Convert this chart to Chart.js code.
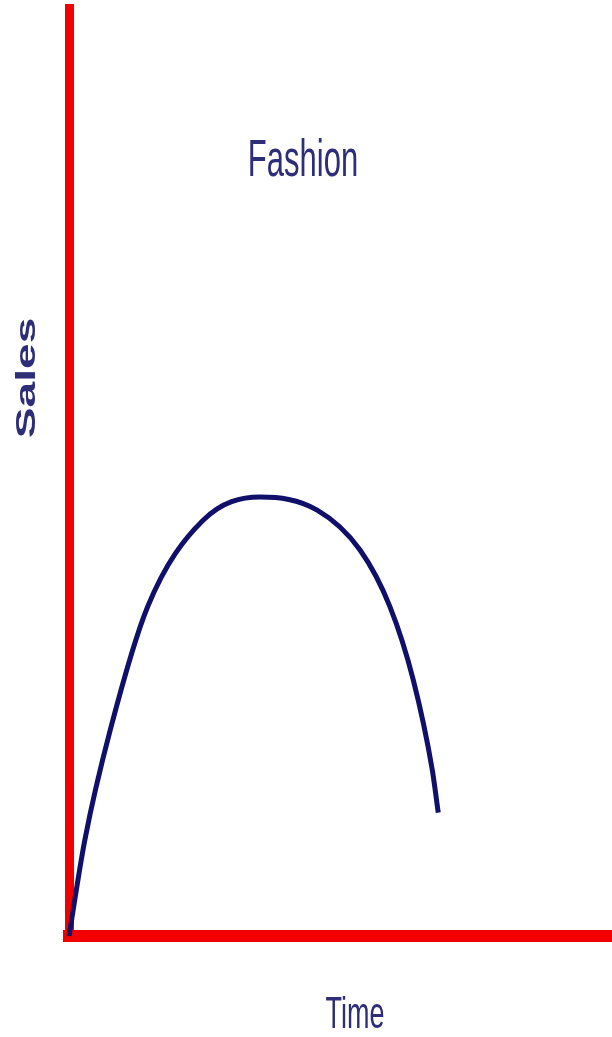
<!DOCTYPE html>
<html>
<head>
<meta charset="utf-8">
<script src="https://cdn.jsdelivr.net/npm/chart.js@4/dist/chart.umd.min.js"></script>
<style>
  html, body { margin: 0; padding: 0; background: #ffffff; }
  #wrap { width: 612px; height: 1037px; position: relative; }
</style>
</head>
<body>
<div id="wrap"><canvas id="fashionChart"></canvas></div>
<script>
// Data (time 0-100, sales 0-100)
const timeValues = [0, 2.9, 7.6, 14.5, 24.7, 35.2, 45.7, 53.6, 59.1, 63.4, 66.9, 68.0];
const salesValues = [0, 10.3, 22.2, 35.5, 44.8, 47.3, 45.9, 41.6, 35.5, 27.6, 17.9, 13.3];

const chartTitle = 'Fashion';
const xAxisTitle = 'Time';
const yAxisTitle = 'Sales';

const textColor = '#2e2e78';
const narrowFont = '"Liberation Sans Narrow", "Arial Narrow", "Liberation Sans", sans-serif';

// Labels in the source image are stretched vertically, so draw them scaled
const stretchedText = {
    id: 'stretchedText',
    afterDraw(chart) {
        const ctx = chart.ctx;
        const drawText = (text, x, y, size, family, weight, stretch, rotate) => {
            ctx.save();
            ctx.translate(x, y);
            if (rotate) ctx.rotate(-Math.PI / 2);
            if (rotate) ctx.scale(stretch, 1); else ctx.scale(1, stretch);
            ctx.font = weight + ' ' + size + 'px ' + family;
            ctx.fillStyle = textColor;
            ctx.textAlign = 'center';
            ctx.textBaseline = 'middle';
            ctx.fillText(text, 0, 0);
            ctx.restore();
        };
        drawText(chartTitle, 303, 162, 31, narrowFont, 'normal', 1.65, false);
        drawText(xAxisTitle, 355, 1016, 27, narrowFont, 'normal', 1.65, false);
        drawText(yAxisTitle, 27, 378, 28, '"Liberation Sans", Arial, sans-serif', 'bold', 1.65, true);
    }
};

const ctx = document.getElementById('fashionChart').getContext('2d');
const fashionChart = new Chart(ctx, {
    type: 'line',
    data: {
        datasets: [{
            data: timeValues.map((t, i) => ({ x: t, y: salesValues[i] })),
            borderColor: '#10106a',
            borderWidth: 5,
            pointRadius: 0,
            cubicInterpolationMode: 'monotone',
            fill: false,
            clip: false
        }]
    },
    options: {
        responsive: true,
        maintainAspectRatio: false,
        animation: false,
        layout: {
            padding: { left: 69, right: 0, top: 8, bottom: 101 }
        },
        plugins: {
            legend: { display: false },
            title: { display: false },
            tooltip: { enabled: false }
        },
        scales: {
            x: {
                type: 'linear',
                min: 0,
                max: 100,
                grid: { display: false, drawTicks: false },
                ticks: { display: false },
                border: { display: true, color: '#f20000', width: 12 }
            },
            y: {
                type: 'linear',
                min: 0,
                max: 100,
                grid: { display: false, drawTicks: false },
                ticks: { display: false },
                border: { display: true, color: '#f20000', width: 9 }
            }
        }
    },
    plugins: [stretchedText]
});
</script>
</body>
</html>
